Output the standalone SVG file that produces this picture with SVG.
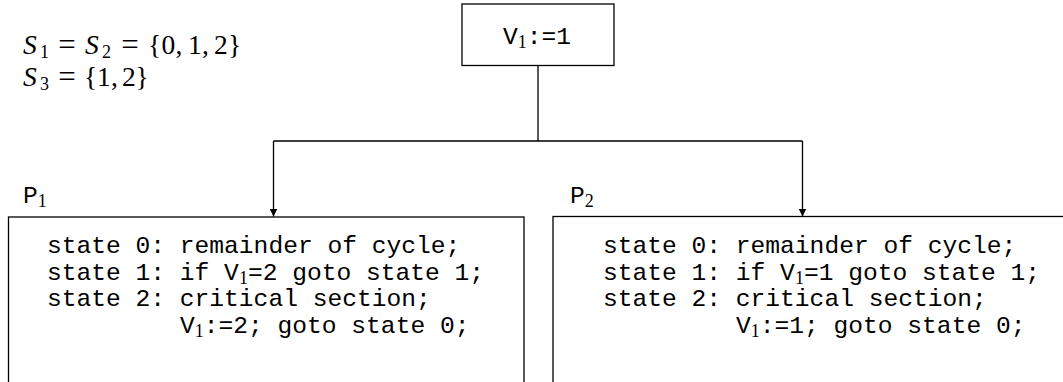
<svg xmlns="http://www.w3.org/2000/svg" width="1063" height="382" viewBox="0 0 1063 382">
<defs>
<marker id="arr" viewBox="0 0 8 10" refX="8" refY="5" markerWidth="8" markerHeight="10" markerUnits="userSpaceOnUse" orient="auto">
<path d="M0,1 L8,5 L0,9 Z" fill="#000"/>
</marker>
</defs>
<style>
.box{fill:#fff;stroke:#000;stroke-width:1.3}
.tt{font-family:"Liberation Mono","DejaVu Sans Mono",monospace;font-size:24.6px;fill:#000}
.sub{font-family:"Liberation Serif","DejaVu Serif",serif;font-size:18px}
.m{font-family:"Liberation Serif","DejaVu Serif",serif;font-size:27.5px;fill:#000}
.mi{font-style:italic}
.ms{font-size:18px}
.eq{font-size:31px}
.conn{fill:none;stroke:#000;stroke-width:1.3}
</style>
<rect width="1063" height="382" fill="#fff"/>
<g id="sets">
<text class="m"><tspan class="mi" x="23" y="54">S</tspan><tspan class="ms" x="40" y="58">1</tspan><tspan class="eq" x="58.2" y="54.8">=</tspan><tspan class="mi" x="85" y="54">S</tspan><tspan class="ms" x="102" y="58">2</tspan><tspan class="eq" x="121.2" y="54.8">=</tspan><tspan x="148" y="54">{</tspan><tspan x="161.5" y="54">0</tspan><tspan x="175.5" y="54">,</tspan><tspan x="188" y="54">1</tspan><tspan x="202" y="54">,</tspan><tspan x="214" y="54">2</tspan><tspan x="228" y="54">}</tspan></text>
<text class="m"><tspan class="mi" x="23" y="86">S</tspan><tspan class="ms" x="40" y="90">3</tspan><tspan class="eq" x="58.2" y="86.8">=</tspan><tspan x="84" y="86">{</tspan><tspan x="97" y="86">1</tspan><tspan x="111" y="86">,</tspan><tspan x="122" y="86">2</tspan><tspan x="135.5" y="86">}</tspan></text>
</g>
<g id="init">
<rect class="box" x="462" y="4" width="152" height="61.5"/>
<text class="tt" x="503" y="44">V<tspan class="sub" dy="4">1</tspan><tspan dy="-4">:=1</tspan></text>
</g>
<g id="connectors">
<path class="conn" d="M538,65.5 V141 M273.5,141 H802.5"/>
<path class="conn" d="M273.5,141 V216.5" marker-end="url(#arr)"/>
<path class="conn" d="M802.5,141 V216.5" marker-end="url(#arr)"/>
</g>
<g id="p1">
<text class="tt" x="23" y="203">P<tspan class="sub" dy="4">1</tspan></text>
<rect class="box" x="8.5" y="217" width="515.5" height="200"/>
<text class="tt" x="47" y="253">state 0: remainder of cycle;</text>
<text class="tt" x="47" y="280">state 1: if V<tspan class="sub" dy="4">1</tspan><tspan dy="-4">=2 goto state 1;</tspan></text>
<text class="tt" x="47" y="306">state 2: critical section;</text>
<text class="tt" x="180" y="333">V<tspan class="sub" dy="4">1</tspan><tspan dy="-4">:=2; goto state 0;</tspan></text>
</g>
<g id="p2">
<text class="tt" x="570" y="203">P<tspan class="sub" dy="4">2</tspan></text>
<rect class="box" x="553" y="216.5" width="520" height="200"/>
<text class="tt" x="603" y="253">state 0: remainder of cycle;</text>
<text class="tt" x="603" y="280">state 1: if V<tspan class="sub" dy="4">1</tspan><tspan dy="-4">=1 goto state 1;</tspan></text>
<text class="tt" x="603" y="306">state 2: critical section;</text>
<text class="tt" x="736" y="333">V<tspan class="sub" dy="4">1</tspan><tspan dy="-4">:=1; goto state 0;</tspan></text>
</g>
</svg>
